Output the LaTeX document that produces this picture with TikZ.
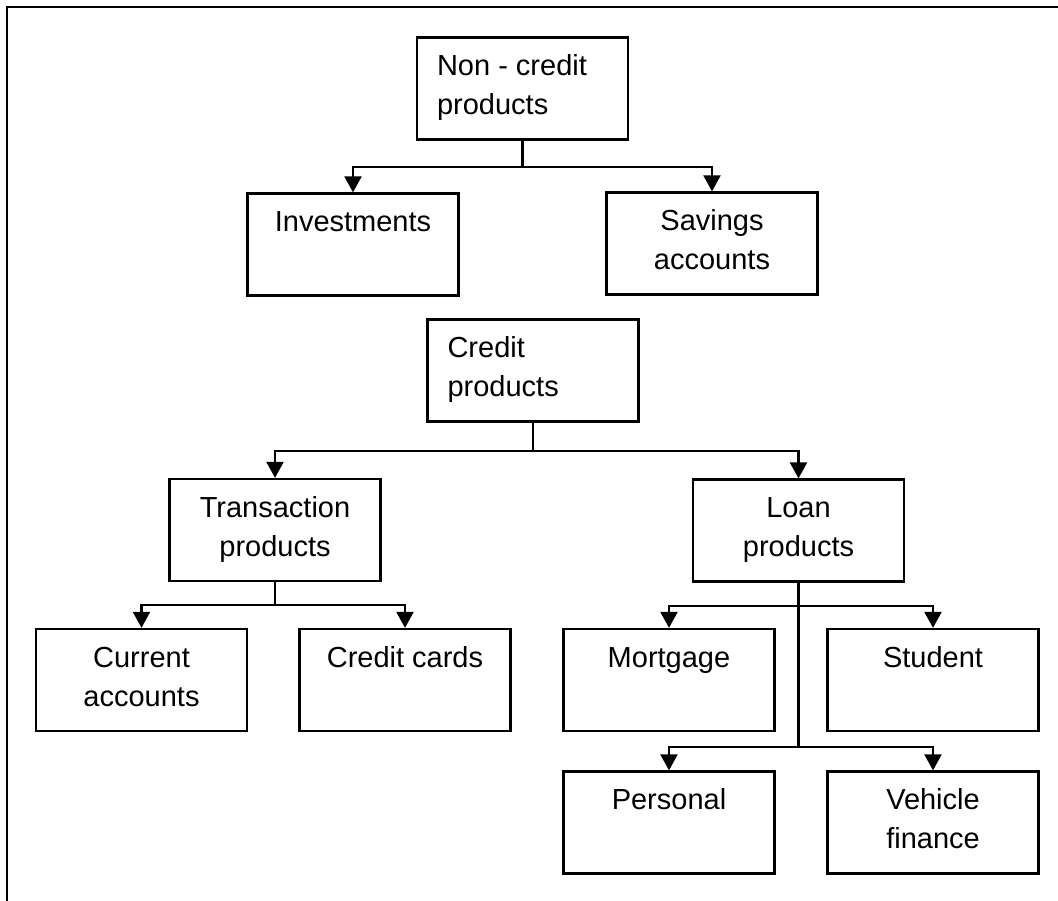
\documentclass[tikz,border=0pt]{standalone}
\usepackage{fontspec}
\setmainfont{Liberation Sans}
\usetikzlibrary{arrows.meta}

\begin{document}
\begin{tikzpicture}[x=1pt,y=-1pt,
  box/.style={draw, line width=2.3pt, rectangle, inner sep=0pt,
              minimum width=211pt, minimum height=102pt},
  txt/.style={font=\fontsize{29}{39}\selectfont, inner sep=0pt,
              anchor=north, align=center},
  ltxt/.style={font=\fontsize{29}{39}\selectfont, inner sep=0pt,
               anchor=north west, align=left},
  link/.style={line width=2.3pt},
  arr/.style={line width=2.3pt, -{Triangle[length=16pt,width=17pt]}}
]
\useasboundingbox (0,0) rectangle (1058,901);

% outer frame: top and left edges only
\draw[line width=2.8pt] (7,901) -- (7,7) -- (1060,7);

% boxes
\node[box] (nc)   at (522.5,88.5) {};
\node[box] (inv)  at (353,244.5)  {};
\node[box] (sav)  at (712,243.5)  {};
\node[box] (cr)   at (533,370.5)  {};
\node[box] (tr)   at (275,530)    {};
\node[box] (ln)   at (798.5,530.5){};
\node[box] (cur)  at (141.5,680)  {};
\node[box] (cc)   at (405,680)    {};
\node[box] (mort) at (669,680)    {};
\node[box] (stu)  at (933,680)    {};
\node[box] (pers) at (669,822.5)  {};
\node[box] (veh)  at (933,822.5)  {};

% labels, set near the top of each box
\newcommand{\fl}{\rule{0pt}{22pt}}
\node[ltxt] (nct)  at ([xshift=21pt,yshift=-17pt]nc.north west) {\fl Non - credit\\products};
\node[txt]  (invt) at ([yshift=-17pt]inv.north)  {\fl Investments};
\node[txt]  (savt) at ([yshift=-17pt]sav.north)  {\fl Savings\\accounts};
\node[ltxt] (crt)  at ([xshift=21pt,yshift=-17pt]cr.north west) {\fl Credit\\products};
\node[txt]  (trt)  at ([yshift=-17pt]tr.north)   {\fl Transaction\\products};
\node[txt]  (lnt)  at ([yshift=-17pt]ln.north)   {\fl Loan\\products};
\node[txt]  (curt) at ([yshift=-17pt]cur.north)  {\fl Current\\accounts};
\node[txt]  (cct)  at ([yshift=-17pt]cc.north)   {\fl Credit cards};
\node[txt]  (mortt) at ([yshift=-17pt]mort.north) {\fl Mortgage};
\node[txt]  (stut) at ([yshift=-17pt]stu.north)  {\fl Student};
\node[txt]  (perst) at ([yshift=-17pt]pers.north) {\fl Personal};
\node[txt]  (veht) at ([yshift=-17pt]veh.north)  {\fl Vehicle\\finance};

% junction points of the tree connectors
\coordinate (j1) at (522.5,167);
\coordinate (j2) at (533,451);
\coordinate (j3) at (275,605);
\coordinate (j4) at (798.5,606);
\coordinate (j5) at (798.5,747);

% connectors
\draw[link] (nc.south) -- (j1);
\draw[arr]  (j1) -| (inv.north);
\draw[arr]  (j1) -| (sav.north);

\draw[link] (cr.south) -- (j2);
\draw[arr]  (j2) -| (tr.north);
\draw[arr]  (j2) -| (ln.north);

\draw[link] (tr.south) -- (j3);
\draw[arr]  (j3) -| (cur.north);
\draw[arr]  (j3) -| (cc.north);

\draw[link] (ln.south) -- (j5);
\draw[arr]  (j4) -| (mort.north);
\draw[arr]  (j4) -| (stu.north);
\draw[arr]  (j5) -| (pers.north);
\draw[arr]  (j5) -| (veh.north);
\end{tikzpicture}
\end{document}
